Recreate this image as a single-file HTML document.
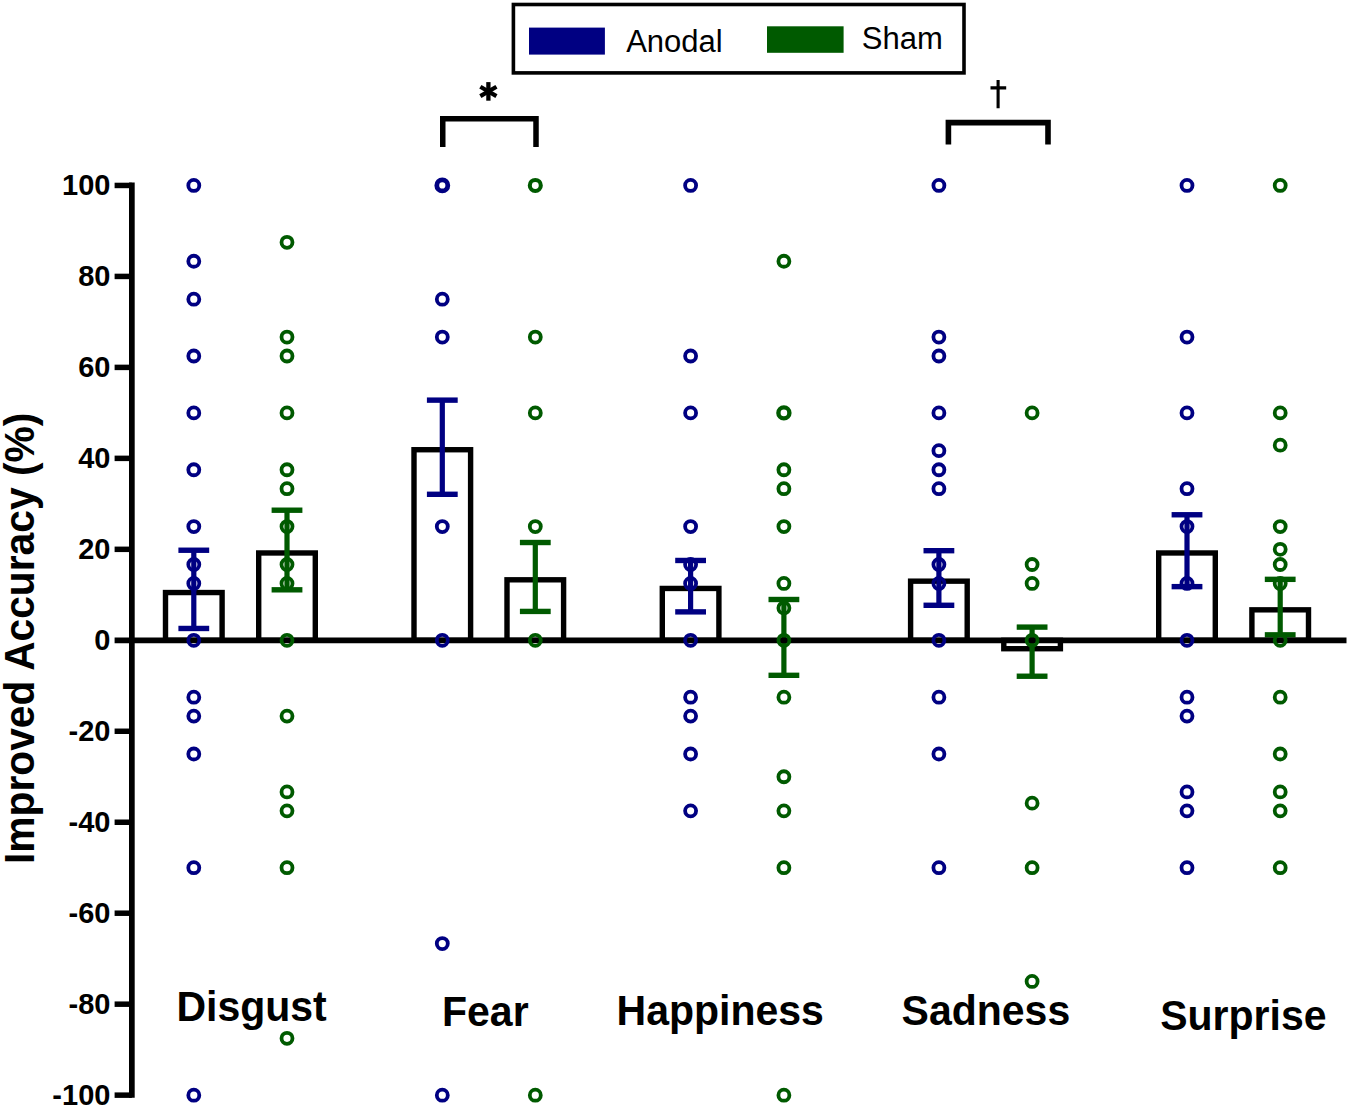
<!DOCTYPE html>
<html><head><meta charset="utf-8"><title>chart</title>
<style>
html,body{margin:0;padding:0;background:#fff}
body{width:1350px;height:1109px;position:relative;overflow:hidden;font-family:"Liberation Sans",sans-serif;color:#000}
.t{position:absolute;white-space:nowrap;line-height:0;height:0}
.t span{display:inline-block;line-height:0;vertical-align:baseline}
.t.r{text-align:right}
</style></head><body>
<svg font-family="Liberation Sans, sans-serif" fill="#000" width="1350" height="1109" viewBox="0 0 1350 1109" style="position:absolute;left:0;top:0">
<rect x="165.50" y="592.54" width="56.60" height="47.76" fill="none" stroke="#000" stroke-width="5.4"/>
<rect x="258.70" y="552.97" width="56.60" height="87.33" fill="none" stroke="#000" stroke-width="5.4"/>
<rect x="414.00" y="449.72" width="56.60" height="190.58" fill="none" stroke="#000" stroke-width="5.4"/>
<rect x="507.00" y="579.80" width="56.60" height="60.50" fill="none" stroke="#000" stroke-width="5.4"/>
<rect x="662.30" y="588.45" width="56.60" height="51.85" fill="none" stroke="#000" stroke-width="5.4"/>
<rect x="755.60" y="640.30" width="56.60" height="0.00" fill="none" stroke="#000" stroke-width="5.4"/>
<rect x="910.60" y="581.17" width="56.60" height="59.13" fill="none" stroke="#000" stroke-width="5.4"/>
<rect x="1003.80" y="640.30" width="56.60" height="8.41" fill="none" stroke="#000" stroke-width="5.4"/>
<rect x="1158.70" y="552.97" width="56.60" height="87.33" fill="none" stroke="#000" stroke-width="5.4"/>
<rect x="1251.90" y="609.83" width="56.60" height="30.47" fill="none" stroke="#000" stroke-width="5.4"/>
<path d="M193.80 550.24V628.47" stroke="#000082" stroke-width="5.2" fill="none"/>
<path d="M178.40 550.24H209.20" stroke="#000082" stroke-width="5.4" fill="none"/>
<path d="M178.40 628.47H209.20" stroke="#000082" stroke-width="5.4" fill="none"/>
<path d="M287.00 510.21V589.81" stroke="#005a00" stroke-width="5.2" fill="none"/>
<path d="M271.60 510.21H302.40" stroke="#005a00" stroke-width="5.4" fill="none"/>
<path d="M271.60 589.81H302.40" stroke="#005a00" stroke-width="5.4" fill="none"/>
<path d="M442.30 400.14V494.29" stroke="#000082" stroke-width="5.2" fill="none"/>
<path d="M426.90 400.14H457.70" stroke="#000082" stroke-width="5.4" fill="none"/>
<path d="M426.90 494.29H457.70" stroke="#000082" stroke-width="5.4" fill="none"/>
<path d="M535.30 542.51V611.42" stroke="#005a00" stroke-width="5.2" fill="none"/>
<path d="M519.90 542.51H550.70" stroke="#005a00" stroke-width="5.4" fill="none"/>
<path d="M519.90 611.42H550.70" stroke="#005a00" stroke-width="5.4" fill="none"/>
<path d="M690.60 560.47V611.87" stroke="#000082" stroke-width="5.2" fill="none"/>
<path d="M675.20 560.47H706.00" stroke="#000082" stroke-width="5.4" fill="none"/>
<path d="M675.20 611.87H706.00" stroke="#000082" stroke-width="5.4" fill="none"/>
<path d="M783.90 599.50V675.32" stroke="#005a00" stroke-width="5.2" fill="none"/>
<path d="M768.50 599.50H799.30" stroke="#005a00" stroke-width="5.4" fill="none"/>
<path d="M768.50 675.32H799.30" stroke="#005a00" stroke-width="5.4" fill="none"/>
<path d="M938.90 550.69V605.28" stroke="#000082" stroke-width="5.2" fill="none"/>
<path d="M923.50 550.69H954.30" stroke="#000082" stroke-width="5.4" fill="none"/>
<path d="M923.50 605.28H954.30" stroke="#000082" stroke-width="5.4" fill="none"/>
<path d="M1032.10 627.11V676.23" stroke="#005a00" stroke-width="5.2" fill="none"/>
<path d="M1016.70 627.11H1047.50" stroke="#005a00" stroke-width="5.4" fill="none"/>
<path d="M1016.70 676.23H1047.50" stroke="#005a00" stroke-width="5.4" fill="none"/>
<path d="M1187.00 514.76V586.63" stroke="#000082" stroke-width="5.2" fill="none"/>
<path d="M1171.60 514.76H1202.40" stroke="#000082" stroke-width="5.4" fill="none"/>
<path d="M1171.60 586.63H1202.40" stroke="#000082" stroke-width="5.4" fill="none"/>
<path d="M1280.20 579.35V634.84" stroke="#005a00" stroke-width="5.2" fill="none"/>
<path d="M1264.80 579.35H1295.60" stroke="#005a00" stroke-width="5.4" fill="none"/>
<path d="M1264.80 634.84H1295.60" stroke="#005a00" stroke-width="5.4" fill="none"/>
<path d="M131.85 182.6V1097.8" stroke="#000" stroke-width="5.7" fill="none"/>
<path d="M114.6 640.30H1346.5" stroke="#000" stroke-width="5.8" fill="none"/>
<path d="M114.6 1095.15H131.85" stroke="#000" stroke-width="5.5" fill="none"/>
<path d="M114.6 1004.18H131.85" stroke="#000" stroke-width="5.5" fill="none"/>
<path d="M114.6 913.21H131.85" stroke="#000" stroke-width="5.5" fill="none"/>
<path d="M114.6 822.24H131.85" stroke="#000" stroke-width="5.5" fill="none"/>
<path d="M114.6 731.27H131.85" stroke="#000" stroke-width="5.5" fill="none"/>
<path d="M114.6 549.33H131.85" stroke="#000" stroke-width="5.5" fill="none"/>
<path d="M114.6 458.36H131.85" stroke="#000" stroke-width="5.5" fill="none"/>
<path d="M114.6 367.39H131.85" stroke="#000" stroke-width="5.5" fill="none"/>
<path d="M114.6 276.42H131.85" stroke="#000" stroke-width="5.5" fill="none"/>
<path d="M114.6 185.45H131.85" stroke="#000" stroke-width="5.5" fill="none"/>
<circle cx="193.80" cy="185.45" r="5.5" fill="none" stroke="#000082" stroke-width="3.8"/>
<circle cx="193.80" cy="261.26" r="5.5" fill="none" stroke="#000082" stroke-width="3.8"/>
<circle cx="193.80" cy="299.16" r="5.5" fill="none" stroke="#000082" stroke-width="3.8"/>
<circle cx="193.80" cy="356.02" r="5.5" fill="none" stroke="#000082" stroke-width="3.8"/>
<circle cx="193.80" cy="412.88" r="5.5" fill="none" stroke="#000082" stroke-width="3.8"/>
<circle cx="193.80" cy="469.73" r="5.5" fill="none" stroke="#000082" stroke-width="3.8"/>
<circle cx="193.80" cy="526.59" r="5.5" fill="none" stroke="#000082" stroke-width="3.8"/>
<circle cx="193.80" cy="564.49" r="5.5" fill="none" stroke="#000082" stroke-width="3.8"/>
<circle cx="193.80" cy="583.44" r="5.5" fill="none" stroke="#000082" stroke-width="3.8"/>
<circle cx="193.80" cy="640.30" r="5.5" fill="none" stroke="#000082" stroke-width="3.8"/>
<circle cx="193.80" cy="697.16" r="5.5" fill="none" stroke="#000082" stroke-width="3.8"/>
<circle cx="193.80" cy="716.11" r="5.5" fill="none" stroke="#000082" stroke-width="3.8"/>
<circle cx="193.80" cy="754.01" r="5.5" fill="none" stroke="#000082" stroke-width="3.8"/>
<circle cx="193.80" cy="867.72" r="5.5" fill="none" stroke="#000082" stroke-width="3.8"/>
<circle cx="193.80" cy="1095.15" r="5.5" fill="none" stroke="#000082" stroke-width="3.8"/>
<circle cx="287.00" cy="242.31" r="5.5" fill="none" stroke="#005a00" stroke-width="3.8"/>
<circle cx="287.00" cy="337.07" r="5.5" fill="none" stroke="#005a00" stroke-width="3.8"/>
<circle cx="287.00" cy="356.02" r="5.5" fill="none" stroke="#005a00" stroke-width="3.8"/>
<circle cx="287.00" cy="412.88" r="5.5" fill="none" stroke="#005a00" stroke-width="3.8"/>
<circle cx="287.00" cy="469.73" r="5.5" fill="none" stroke="#005a00" stroke-width="3.8"/>
<circle cx="287.00" cy="488.68" r="5.5" fill="none" stroke="#005a00" stroke-width="3.8"/>
<circle cx="287.00" cy="526.59" r="5.5" fill="none" stroke="#005a00" stroke-width="3.8"/>
<circle cx="287.00" cy="564.49" r="5.5" fill="none" stroke="#005a00" stroke-width="3.8"/>
<circle cx="287.00" cy="583.44" r="5.5" fill="none" stroke="#005a00" stroke-width="3.8"/>
<circle cx="287.00" cy="640.30" r="5.5" fill="none" stroke="#005a00" stroke-width="3.8"/>
<circle cx="287.00" cy="716.11" r="5.5" fill="none" stroke="#005a00" stroke-width="3.8"/>
<circle cx="287.00" cy="791.92" r="5.5" fill="none" stroke="#005a00" stroke-width="3.8"/>
<circle cx="287.00" cy="810.87" r="5.5" fill="none" stroke="#005a00" stroke-width="3.8"/>
<circle cx="287.00" cy="867.72" r="5.5" fill="none" stroke="#005a00" stroke-width="3.8"/>
<circle cx="287.00" cy="1038.29" r="5.5" fill="none" stroke="#005a00" stroke-width="3.8"/>
<circle cx="442.30" cy="185.45" r="5.5" fill="none" stroke="#000082" stroke-width="4.8"/>
<circle cx="442.30" cy="299.16" r="5.5" fill="none" stroke="#000082" stroke-width="3.8"/>
<circle cx="442.30" cy="337.07" r="5.5" fill="none" stroke="#000082" stroke-width="3.8"/>
<circle cx="442.30" cy="526.59" r="5.5" fill="none" stroke="#000082" stroke-width="3.8"/>
<circle cx="442.30" cy="640.30" r="5.5" fill="none" stroke="#000082" stroke-width="3.8"/>
<circle cx="442.30" cy="943.53" r="5.5" fill="none" stroke="#000082" stroke-width="3.8"/>
<circle cx="442.30" cy="1095.15" r="5.5" fill="none" stroke="#000082" stroke-width="3.8"/>
<circle cx="535.30" cy="185.45" r="5.5" fill="none" stroke="#005a00" stroke-width="4.1"/>
<circle cx="535.30" cy="337.07" r="5.5" fill="none" stroke="#005a00" stroke-width="3.8"/>
<circle cx="535.30" cy="412.88" r="5.5" fill="none" stroke="#005a00" stroke-width="3.8"/>
<circle cx="535.30" cy="526.59" r="5.5" fill="none" stroke="#005a00" stroke-width="3.8"/>
<circle cx="535.30" cy="640.30" r="5.5" fill="none" stroke="#005a00" stroke-width="3.8"/>
<circle cx="535.30" cy="1095.15" r="5.5" fill="none" stroke="#005a00" stroke-width="3.8"/>
<circle cx="690.60" cy="185.45" r="5.5" fill="none" stroke="#000082" stroke-width="3.8"/>
<circle cx="690.60" cy="356.02" r="5.5" fill="none" stroke="#000082" stroke-width="3.8"/>
<circle cx="690.60" cy="412.88" r="5.5" fill="none" stroke="#000082" stroke-width="3.8"/>
<circle cx="690.60" cy="526.59" r="5.5" fill="none" stroke="#000082" stroke-width="3.8"/>
<circle cx="690.60" cy="564.49" r="5.5" fill="none" stroke="#000082" stroke-width="3.8"/>
<circle cx="690.60" cy="583.44" r="5.5" fill="none" stroke="#000082" stroke-width="3.8"/>
<circle cx="690.60" cy="640.30" r="5.5" fill="none" stroke="#000082" stroke-width="3.8"/>
<circle cx="690.60" cy="697.16" r="5.5" fill="none" stroke="#000082" stroke-width="3.8"/>
<circle cx="690.60" cy="716.11" r="5.5" fill="none" stroke="#000082" stroke-width="3.8"/>
<circle cx="690.60" cy="754.01" r="5.5" fill="none" stroke="#000082" stroke-width="3.8"/>
<circle cx="690.60" cy="810.87" r="5.5" fill="none" stroke="#000082" stroke-width="3.8"/>
<circle cx="783.90" cy="261.26" r="5.5" fill="none" stroke="#005a00" stroke-width="3.8"/>
<circle cx="783.90" cy="412.88" r="5.5" fill="none" stroke="#005a00" stroke-width="4.4"/>
<circle cx="783.90" cy="469.73" r="5.5" fill="none" stroke="#005a00" stroke-width="3.8"/>
<circle cx="783.90" cy="488.68" r="5.5" fill="none" stroke="#005a00" stroke-width="3.8"/>
<circle cx="783.90" cy="526.59" r="5.5" fill="none" stroke="#005a00" stroke-width="3.8"/>
<circle cx="783.90" cy="583.44" r="5.5" fill="none" stroke="#005a00" stroke-width="3.8"/>
<circle cx="783.90" cy="608.01" r="5.5" fill="none" stroke="#005a00" stroke-width="3.8"/>
<circle cx="783.90" cy="640.30" r="5.5" fill="none" stroke="#005a00" stroke-width="3.8"/>
<circle cx="783.90" cy="697.16" r="5.5" fill="none" stroke="#005a00" stroke-width="3.8"/>
<circle cx="783.90" cy="776.75" r="5.5" fill="none" stroke="#005a00" stroke-width="3.8"/>
<circle cx="783.90" cy="810.87" r="5.5" fill="none" stroke="#005a00" stroke-width="3.8"/>
<circle cx="783.90" cy="867.72" r="5.5" fill="none" stroke="#005a00" stroke-width="3.8"/>
<circle cx="783.90" cy="1095.15" r="5.5" fill="none" stroke="#005a00" stroke-width="3.8"/>
<circle cx="938.90" cy="185.45" r="5.5" fill="none" stroke="#000082" stroke-width="3.8"/>
<circle cx="938.90" cy="337.07" r="5.5" fill="none" stroke="#000082" stroke-width="3.8"/>
<circle cx="938.90" cy="356.02" r="5.5" fill="none" stroke="#000082" stroke-width="3.8"/>
<circle cx="938.90" cy="412.88" r="5.5" fill="none" stroke="#000082" stroke-width="3.8"/>
<circle cx="938.90" cy="450.63" r="5.5" fill="none" stroke="#000082" stroke-width="3.8"/>
<circle cx="938.90" cy="469.73" r="5.5" fill="none" stroke="#000082" stroke-width="3.8"/>
<circle cx="938.90" cy="488.68" r="5.5" fill="none" stroke="#000082" stroke-width="3.8"/>
<circle cx="938.90" cy="564.49" r="5.5" fill="none" stroke="#000082" stroke-width="3.8"/>
<circle cx="938.90" cy="583.44" r="5.5" fill="none" stroke="#000082" stroke-width="3.8"/>
<circle cx="938.90" cy="640.30" r="5.5" fill="none" stroke="#000082" stroke-width="3.8"/>
<circle cx="938.90" cy="697.16" r="5.5" fill="none" stroke="#000082" stroke-width="3.8"/>
<circle cx="938.90" cy="754.01" r="5.5" fill="none" stroke="#000082" stroke-width="3.8"/>
<circle cx="938.90" cy="867.72" r="5.5" fill="none" stroke="#000082" stroke-width="3.8"/>
<circle cx="1032.10" cy="412.88" r="5.5" fill="none" stroke="#005a00" stroke-width="3.8"/>
<circle cx="1032.10" cy="564.49" r="5.5" fill="none" stroke="#005a00" stroke-width="3.8"/>
<circle cx="1032.10" cy="583.44" r="5.5" fill="none" stroke="#005a00" stroke-width="3.8"/>
<circle cx="1032.10" cy="640.30" r="5.5" fill="none" stroke="#005a00" stroke-width="3.8"/>
<circle cx="1032.10" cy="803.14" r="5.5" fill="none" stroke="#005a00" stroke-width="3.8"/>
<circle cx="1032.10" cy="867.72" r="5.5" fill="none" stroke="#005a00" stroke-width="3.8"/>
<circle cx="1032.10" cy="981.44" r="5.5" fill="none" stroke="#005a00" stroke-width="3.8"/>
<circle cx="1187.00" cy="185.45" r="5.5" fill="none" stroke="#000082" stroke-width="3.8"/>
<circle cx="1187.00" cy="337.07" r="5.5" fill="none" stroke="#000082" stroke-width="3.8"/>
<circle cx="1187.00" cy="412.88" r="5.5" fill="none" stroke="#000082" stroke-width="3.8"/>
<circle cx="1187.00" cy="488.68" r="5.5" fill="none" stroke="#000082" stroke-width="3.8"/>
<circle cx="1187.00" cy="526.59" r="5.5" fill="none" stroke="#000082" stroke-width="3.8"/>
<circle cx="1187.00" cy="583.44" r="5.5" fill="none" stroke="#000082" stroke-width="3.8"/>
<circle cx="1187.00" cy="640.30" r="5.5" fill="none" stroke="#000082" stroke-width="3.8"/>
<circle cx="1187.00" cy="697.16" r="5.5" fill="none" stroke="#000082" stroke-width="3.8"/>
<circle cx="1187.00" cy="716.11" r="5.5" fill="none" stroke="#000082" stroke-width="3.8"/>
<circle cx="1187.00" cy="791.92" r="5.5" fill="none" stroke="#000082" stroke-width="3.8"/>
<circle cx="1187.00" cy="810.87" r="5.5" fill="none" stroke="#000082" stroke-width="3.8"/>
<circle cx="1187.00" cy="867.72" r="5.5" fill="none" stroke="#000082" stroke-width="3.8"/>
<circle cx="1280.20" cy="185.45" r="5.5" fill="none" stroke="#005a00" stroke-width="3.8"/>
<circle cx="1280.20" cy="412.88" r="5.5" fill="none" stroke="#005a00" stroke-width="3.8"/>
<circle cx="1280.20" cy="445.17" r="5.5" fill="none" stroke="#005a00" stroke-width="3.8"/>
<circle cx="1280.20" cy="526.59" r="5.5" fill="none" stroke="#005a00" stroke-width="3.8"/>
<circle cx="1280.20" cy="549.33" r="5.5" fill="none" stroke="#005a00" stroke-width="3.8"/>
<circle cx="1280.20" cy="564.49" r="5.5" fill="none" stroke="#005a00" stroke-width="3.8"/>
<circle cx="1280.20" cy="583.44" r="5.5" fill="none" stroke="#005a00" stroke-width="3.8"/>
<circle cx="1280.20" cy="640.30" r="5.5" fill="none" stroke="#005a00" stroke-width="3.8"/>
<circle cx="1280.20" cy="697.16" r="5.5" fill="none" stroke="#005a00" stroke-width="3.8"/>
<circle cx="1280.20" cy="754.01" r="5.5" fill="none" stroke="#005a00" stroke-width="3.8"/>
<circle cx="1280.20" cy="791.92" r="5.5" fill="none" stroke="#005a00" stroke-width="3.8"/>
<circle cx="1280.20" cy="810.87" r="5.5" fill="none" stroke="#005a00" stroke-width="3.8"/>
<circle cx="1280.20" cy="867.72" r="5.5" fill="none" stroke="#005a00" stroke-width="3.8"/>
<path d="M442.75 147V118.7H536V147" stroke="#000" stroke-width="5.5" fill="none"/>
<path d="M948.4 144.6V122.6H1048V144.6" stroke="#000" stroke-width="5.6" fill="none"/>
<path d="M488.40 82.10L488.40 100.70" stroke="#000" stroke-width="4.3" fill="none"/>
<path d="M480.35 86.75L496.45 96.05" stroke="#000" stroke-width="4.3" fill="none"/>
<path d="M496.45 86.75L480.35 96.05" stroke="#000" stroke-width="4.3" fill="none"/>
<path d="M998.1 80V108.2M990.5 87.9H1006.2" stroke="#000" stroke-width="3.1" fill="none"/>
<rect x="513.4" y="4.5" width="450.6" height="68.4" fill="#fff" stroke="#000" stroke-width="3.6"/>
<rect x="529" y="27.6" width="75.9" height="27" fill="#000082"/>
<rect x="767" y="26.3" width="76.6" height="26.5" fill="#005a00"/>
<text font-size="41" font-weight="bold" transform="translate(176.4 1021.3) scale(1 1.03)">Disgust</text>
<text font-size="41" font-weight="bold" transform="translate(442.0 1025.9) scale(1 1.03)">Fear</text>
<text font-size="41" font-weight="bold" transform="translate(616.6 1024.7) scale(1 1.03)">Happiness</text>
<text font-size="41" font-weight="bold" transform="translate(901.6 1025.3) scale(1 1.03)">Sadness</text>
<text font-size="41" font-weight="bold" transform="translate(1160.2 1029.5) scale(1 1.03)">Surprise</text>
<text x="626.2" y="51.6" font-size="31" font-weight="normal" text-anchor="start" >Anodal</text>
<text x="861.8" y="49.4" font-size="31" font-weight="normal" text-anchor="start" >Sham</text>
<text x="110.4" y="1105.15" font-size="29" font-weight="bold" text-anchor="end" >-100</text>
<text x="110.4" y="1014.18" font-size="29" font-weight="bold" text-anchor="end" >-80</text>
<text x="110.4" y="923.21" font-size="29" font-weight="bold" text-anchor="end" >-60</text>
<text x="110.4" y="832.24" font-size="29" font-weight="bold" text-anchor="end" >-40</text>
<text x="110.4" y="741.27" font-size="29" font-weight="bold" text-anchor="end" >-20</text>
<text x="110.4" y="650.3" font-size="29" font-weight="bold" text-anchor="end" >0</text>
<text x="110.4" y="559.33" font-size="29" font-weight="bold" text-anchor="end" >20</text>
<text x="110.4" y="468.36" font-size="29" font-weight="bold" text-anchor="end" >40</text>
<text x="110.4" y="377.39" font-size="29" font-weight="bold" text-anchor="end" >60</text>
<text x="110.4" y="286.42" font-size="29" font-weight="bold" text-anchor="end" >80</text>
<text x="110.4" y="195.45" font-size="29" font-weight="bold" text-anchor="end" >100</text>
<text x="0" y="0" font-size="40.75" font-weight="bold" text-anchor="start" transform="translate(33.8 864) rotate(-90) scale(1 1.035)">Improved Accuracy (%)</text>
</svg>

</body></html>
